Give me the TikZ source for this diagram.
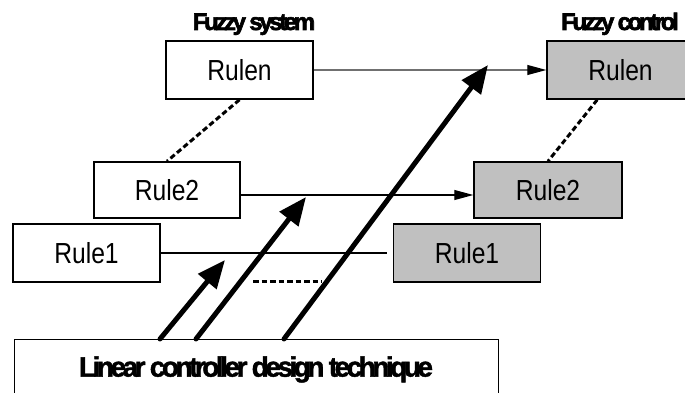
\documentclass[tikz,border=0pt]{standalone}
\usepackage{fontspec}
\usetikzlibrary{arrows.meta}
\newfontfamily\rulefont[FakeStretch=0.85]{Liberation Sans}
\newfontfamily\headfont[LetterSpace=-14, FakeBold=2.5]{Liberation Sans Bold}
\newfontfamily\basefont[LetterSpace=-12.5, BoldFeatures={FakeBold=1.5}]{Liberation Sans}
\definecolor{rulegray}{HTML}{C0C0C0}
\definecolor{linkgray}{HTML}{707070}
\tikzset{
  rulebox/.style={draw, line width=1.5pt, minimum width=147pt, minimum height=58pt,
    inner sep=0pt, font=\rulefont\fontsize{29}{29}\selectfont},
  ctrlbox/.style={rulebox, fill=rulegray},
  headlabel/.style={anchor=base, inner sep=0pt, font=\headfont\fontsize{24}{24}\selectfont},
  thinlink/.style={line width=1.1pt, -{Triangle[length=19pt,width=10pt,color=black]}},
  bigarrow/.style={line width=5pt, line cap=round, -{Triangle[length=28pt,width=23pt]}},
  dotlink/.style={line width=3pt, dash pattern=on 5.5pt off 3pt}
}
\begin{document}
\begin{tikzpicture}[x=1pt,y=-1pt]
\useasboundingbox (0,0) rectangle (685,393);

% source rule base
\node[rulebox] (Rn1) at (239.5,70) {Rulen};
\node[rulebox, minimum width=146pt, minimum height=56pt] (R2a) at (167,190) {Rule2};
\node[rulebox] (R1a) at (86.5,253) {Rule1};
\node[headlabel] (fs) at (254,30) {Fuzzy system};

% controller rule base
\node[ctrlbox] (Rn2) at (620.5,70) {Rulen};
\node[ctrlbox, minimum width=148pt, minimum height=56pt] (R2b) at (548,190) {Rule2};
\node[ctrlbox] (R1b) at (467,253) {Rule1};
\node[headlabel] (fc) at (620,30) {Fuzzy control};

% design technique
\node[draw, line width=1pt, minimum width=484pt, minimum height=61pt, inner sep=0pt,
  text depth=6pt, font=\basefont\bfseries\fontsize{28}{28}\selectfont] (lin) at (256,369.5)
  {Linear controller design technique};

% rule-to-rule links
\draw[thinlink, draw=linkgray] (Rn1.east) -- (Rn2.west);
\draw[thinlink] ([yshift=-5pt]R2a.east) -- ([yshift=-5pt]R2b.west);
\draw[line width=1.1pt, shorten >=6pt] (R1a.east) -- (R1b.west);

% omitted rules
\draw[dotlink] (Rn1.south) -- (R2a.north);
\draw[dotlink] ([xshift=51pt]Rn2.south west) -- (R2b.north);
\coordinate (g1) at (253,281);
\coordinate (g2) at (322,281);
\draw[dotlink] (g1) -- (g2);

% design arrows
\coordinate (t1) at (160,339);
\coordinate (t2) at (196,339);
\coordinate (t3) at (284,339);
\coordinate (h1) at (225,260);
\coordinate (h2) at (306,197);
\coordinate (h3) at (488,65);
\draw[bigarrow] (t1) -- (h1);
\draw[bigarrow] (t2) -- (h2);
\draw[bigarrow] (t3) -- (h3);
\end{tikzpicture}
\end{document}
